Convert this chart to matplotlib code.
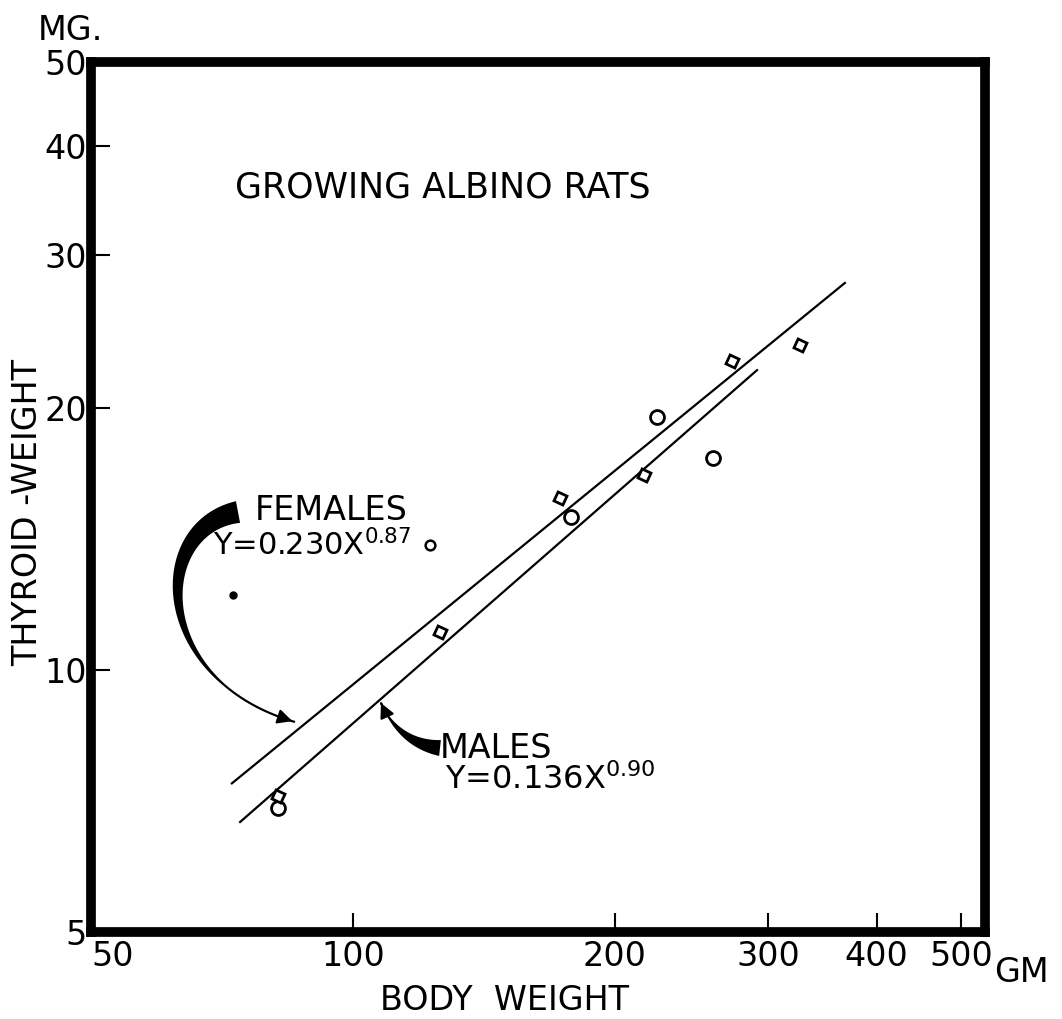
import numpy as np
import matplotlib
matplotlib.use("Agg")
import matplotlib.pyplot as plt
from matplotlib.patches import Polygon, FancyArrowPatch
from matplotlib.ticker import FixedLocator, NullLocator, FixedFormatter

plt.rcParams['font.family'] = ['DejaVu Sans']

# Data (body weight in g, thyroid weight in mg)
circle_x = [82.0, 178.0, 223.6, 259.4]
circle_y = [6.94, 14.99, 19.54, 17.52]
small_circle_x = [122.6]
small_circle_y = [13.93]
square_x = [82.0, 125.9, 173.0, 216.0, 272.7, 326.5]
square_y = [7.16, 11.06, 15.77, 16.75, 22.66, 23.63]
dot_x = [72.8]
dot_y = [12.2]

females_x = [72.6, 367.8]
females_y = [7.41, 27.86]
males_x = [74.2, 291.5]
males_y = [6.69, 22.12]

x_ticks = [50, 100, 200, 300, 400, 500]
x_labels = ['50', '100', '200', '300', '400', '500']
y_ticks = [5, 10, 20, 30, 40, 50]
y_labels = ['5', '10', '20', '30', '40', '50']

W, H = 1062, 1019
fig = plt.figure(figsize=(W / 100, H / 100), dpi=100)
ax = fig.add_axes([91 / W, 1 - 932 / H, 894 / W, 870 / H])

ax.set_xscale('log')
ax.set_yscale('log')
ax.set_xlim(50, 533)
ax.set_ylim(5, 50)

# regression lines
ax.plot(females_x, females_y, color='black', lw=1.6)
ax.plot(males_x, males_y, color='black', lw=1.6)

# points
ax.plot(circle_x, circle_y, 'o', ms=10, mfc='white', mec='black', mew=2, ls='none')
ax.plot(small_circle_x, small_circle_y, 'o', ms=7, mfc='white', mec='black', mew=1.8, ls='none')
ax.plot(square_x, square_y, marker=(4, 0, 20), ms=10, mfc='white', mec='black', mew=2, ls='none')
ax.plot(dot_x, dot_y, 'o', ms=5, color='black', ls='none')

# frame and ticks
for s in ax.spines.values():
    s.set_linewidth(7)
ax.xaxis.set_major_locator(FixedLocator(x_ticks))
ax.xaxis.set_major_formatter(FixedFormatter(x_labels))
ax.yaxis.set_major_locator(FixedLocator(y_ticks))
ax.yaxis.set_major_formatter(FixedFormatter(y_labels))
ax.xaxis.set_minor_locator(NullLocator())
ax.yaxis.set_minor_locator(NullLocator())
ax.tick_params(direction='in', length=14, width=1.5, labelsize=24, pad=6)
ax.tick_params(axis='y', pad=3)
ax.get_xticklabels()[0].set_ha('left')

# labels
fig.text(505 / W, 1 - 1000 / H, 'BODY  WEIGHT', ha='center', va='center', fontsize=24)
fig.text(28 / W, 1 - 512 / H, 'THYROID -WEIGHT', ha='center', va='center', rotation=90, fontsize=24)
fig.text(70 / W, 1 - 30 / H, 'MG.', ha='center', va='center', fontsize=24)
fig.text(1021 / W, 1 - 972 / H, 'GM', ha='center', va='center', fontsize=24)
fig.text(443 / W, 1 - 187 / H, 'GROWING ALBINO RATS', ha='center', va='center', fontsize=25)

fig.text(255 / W, 1 - 510 / H, 'FEMALES', ha='left', va='center', fontsize=24)
fig.text(213 / W, 1 - 545 / H, 'Y=0.230X$^{0.87}$', ha='left', va='center', fontsize=22)
fig.text(440 / W, 1 - 748 / H, 'MALES', ha='left', va='center', fontsize=24)
fig.text(445 / W, 1 - 780 / H, 'Y=0.136X$^{0.90}$', ha='left', va='center', fontsize=23)


def brush_arrow(p0, p1, p2, p3, w0, w1, taper_end):
    # tapered pen stroke along a cubic bezier (pixel coords), arrow head at the end
    t = np.linspace(0, 1, 200)
    pts = np.array([(1 - t) ** 3 * p0[i] + 3 * (1 - t) ** 2 * t * p1[i]
                    + 3 * (1 - t) * t ** 2 * p2[i] + t ** 3 * p3[i] for i in range(2)]).T
    d = np.gradient(pts, axis=0)
    n = np.column_stack([-d[:, 1], d[:, 0]])
    n /= np.linalg.norm(n, axis=1)[:, None]
    w = np.where(t < taper_end, (w0 - w1) * (1 - t / taper_end) ** 1.2, 0) + w1
    left = pts + n * w[:, None] / 2
    right = pts - n * w[:, None] / 2
    outline = np.vstack([left, right[::-1]])
    outline = np.column_stack([outline[:, 0] / W, 1 - outline[:, 1] / H])
    fig.add_artist(Polygon(outline, closed=True, color='black', lw=0, transform=fig.transFigure))
    fig.add_artist(FancyArrowPatch(
        (pts[-8, 0] / W, 1 - pts[-8, 1] / H), (pts[-1, 0] / W, 1 - pts[-1, 1] / H),
        transform=fig.transFigure, arrowstyle='-|>', mutation_scale=22, color='black', lw=1.5))


brush_arrow((238, 512), (150, 528), (150, 680), (295, 722), 22, 2.2, 0.8)
brush_arrow((440, 748), (412, 745), (392, 728), (381, 703), 16, 2.2, 0.8)

fig.savefig('out.png', dpi=100)
